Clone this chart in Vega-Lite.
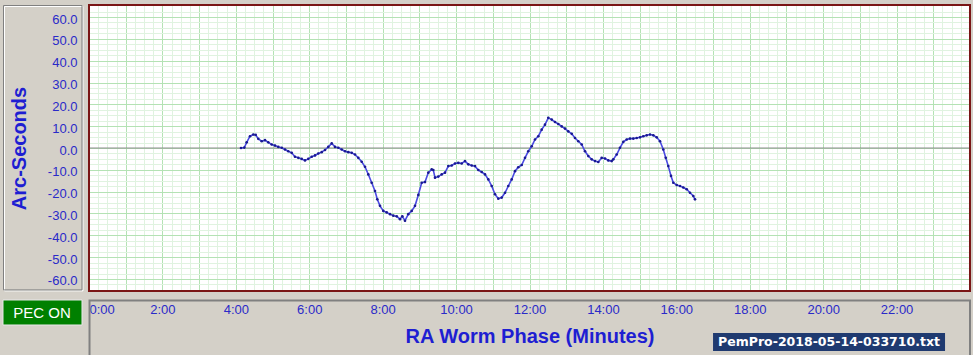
{
"$schema": "https://vega.github.io/schema/vega-lite/v6.json",
"width": 881, "height": 286,
"autosize": {"type": "none"},
"padding": {"left": 89, "top": 5, "right": 3, "bottom": 64},
"background": "#d4d0c8",
"view": {"fill": "#ffffff", "stroke": null},
"config": {"font": "Liberation Sans"},
"datasets": {
"worm": [
{"m":4.141,"a":0.0},{"m":4.231,"a":0.2},{"m":4.296,"a":2.6},{"m":4.386,"a":5.4},{"m":4.476,"a":6.2},{"m":4.541,"a":6.0},{"m":4.612,"a":4.2},{"m":4.705,"a":3.1},{"m":4.795,"a":3.6},{"m":4.884,"a":2.6},{"m":4.977,"a":1.6},{"m":5.067,"a":1.1},{"m":5.157,"a":0.5},{"m":5.250,"a":0.1},{"m":5.339,"a":-0.7},{"m":5.429,"a":-1.5},{"m":5.522,"a":-2.2},{"m":5.612,"a":-4.0},{"m":5.702,"a":-4.5},{"m":5.794,"a":-5.0},{"m":5.884,"a":-5.7},{"m":5.974,"a":-5.0},{"m":6.067,"a":-4.0},{"m":6.157,"a":-3.4},{"m":6.247,"a":-2.5},{"m":6.339,"a":-1.9},{"m":6.429,"a":-0.9},{"m":6.519,"a":0.5},{"m":6.612,"a":2.1},{"m":6.702,"a":0.5},{"m":6.792,"a":0.1},{"m":6.884,"a":-0.7},{"m":6.974,"a":-1.5},{"m":7.064,"a":-1.9},{"m":7.156,"a":-2.2},{"m":7.246,"a":-3.0},{"m":7.336,"a":-4.5},{"m":7.429,"a":-6.3},{"m":7.519,"a":-8.6},{"m":7.609,"a":-12.1},{"m":7.701,"a":-15.9},{"m":7.791,"a":-19.7},{"m":7.854,"a":-23.5},{"m":7.927,"a":-26.5},{"m":8.017,"a":-28.8},{"m":8.110,"a":-29.5},{"m":8.200,"a":-30.3},{"m":8.290,"a":-31.0},{"m":8.382,"a":-31.3},{"m":8.472,"a":-32.6},{"m":8.535,"a":-31.3},{"m":8.608,"a":-33.3},{"m":8.698,"a":-30.3},{"m":8.791,"a":-28.8},{"m":8.881,"a":-26.5},{"m":8.971,"a":-21.5},{"m":9.063,"a":-15.9},{"m":9.153,"a":-15.6},{"m":9.243,"a":-11.3},{"m":9.336,"a":-9.8},{"m":9.380,"a":-10.1},{"m":9.426,"a":-13.6},{"m":9.516,"a":-13.1},{"m":9.608,"a":-12.1},{"m":9.698,"a":-11.3},{"m":9.788,"a":-8.3},{"m":9.881,"a":-8.0},{"m":9.971,"a":-7.1},{"m":10.061,"a":-6.8},{"m":10.153,"a":-7.1},{"m":10.243,"a":-6.0},{"m":10.333,"a":-7.5},{"m":10.426,"a":-8.0},{"m":10.515,"a":-8.3},{"m":10.605,"a":-10.1},{"m":10.698,"a":-11.0},{"m":10.788,"a":-12.1},{"m":10.878,"a":-14.4},{"m":10.970,"a":-17.4},{"m":11.060,"a":-21.2},{"m":11.150,"a":-23.2},{"m":11.243,"a":-22.7},{"m":11.333,"a":-20.5},{"m":11.423,"a":-17.4},{"m":11.515,"a":-14.4},{"m":11.605,"a":-10.6},{"m":11.695,"a":-8.8},{"m":11.788,"a":-7.8},{"m":11.878,"a":-4.5},{"m":11.967,"a":-1.5},{"m":12.060,"a":0.8},{"m":12.150,"a":3.9},{"m":12.240,"a":5.4},{"m":12.332,"a":8.4},{"m":12.422,"a":10.7},{"m":12.512,"a":13.8},{"m":12.605,"a":13.0},{"m":12.695,"a":11.9},{"m":12.785,"a":11.0},{"m":12.877,"a":9.9},{"m":12.967,"a":8.9},{"m":13.057,"a":7.6},{"m":13.150,"a":6.5},{"m":13.240,"a":4.6},{"m":13.330,"a":3.1},{"m":13.422,"a":1.6},{"m":13.512,"a":-1.5},{"m":13.602,"a":-3.7},{"m":13.695,"a":-5.2},{"m":13.785,"a":-6.0},{"m":13.874,"a":-6.4},{"m":13.967,"a":-4.5},{"m":14.057,"a":-4.8},{"m":14.147,"a":-5.7},{"m":14.239,"a":-6.0},{"m":14.283,"a":-5.2},{"m":14.375,"a":-3.0},{"m":14.465,"a":0.1},{"m":14.555,"a":2.8},{"m":14.648,"a":3.9},{"m":14.738,"a":4.3},{"m":14.828,"a":4.3},{"m":14.920,"a":4.6},{"m":15.010,"a":4.9},{"m":15.100,"a":5.4},{"m":15.193,"a":5.8},{"m":15.283,"a":6.2},{"m":15.373,"a":5.8},{"m":15.465,"a":4.9},{"m":15.555,"a":3.1},{"m":15.645,"a":-0.7},{"m":15.711,"a":-4.5},{"m":15.781,"a":-8.3},{"m":15.855,"a":-12.8},{"m":15.918,"a":-15.9},{"m":16.010,"a":-17.0},{"m":16.100,"a":-17.4},{"m":16.190,"a":-18.1},{"m":16.282,"a":-18.9},{"m":16.372,"a":-20.5},{"m":16.462,"a":-22.0},{"m":16.509,"a":-23.5}
],
"pec": [{"label": "PEC ON"}],
"file": [{"label": "PemPro-2018-05-14-033710.txt"}]
},
"resolve": {"axis": {"x": "independent", "y": "independent"}},
"layer": [
{
"data": {"name": "worm"},
"mark": {"type": "point", "opacity": 0},
"encoding": {
"x": {"field": "m", "type": "quantitative", "scale": {"domain": [0, 24], "nice": false, "zero": false},
"axis": {"orient": "top", "grid": true, "gridColor": "#e0f3e0", "gridWidth": 1, "labels": false, "ticks": false, "domain": false, "title": null,
"values": [0.25,0.5,0.75,1.25,1.5,1.75,2.25,2.5,2.75,3.25,3.5,3.75,4.25,4.5,4.75,5.25,5.5,5.75,6.25,6.5,6.75,7.25,7.5,7.75,8.25,8.5,8.75,9.25,9.5,9.75,10.25,10.5,10.75,11.25,11.5,11.75,12.25,12.5,12.75,13.25,13.5,13.75,14.25,14.5,14.75,15.25,15.5,15.75,16.25,16.5,16.75,17.25,17.5,17.75,18.25,18.5,18.75,19.25,19.5,19.75,20.25,20.5,20.75,21.25,21.5,21.75,22.25,22.5,22.75,23.25,23.5,23.75]}},
"y": {"field": "a", "type": "quantitative", "scale": {"domain": [-65.5, 65.5], "nice": false, "zero": false},
"axis": {"orient": "right", "grid": true, "gridColor": "#e0f3e0", "gridWidth": 1, "labels": false, "ticks": false, "domain": false, "title": null,
"values": [-62.5,-57.5,-55,-52.5,-47.5,-45,-42.5,-37.5,-35,-32.5,-27.5,-25,-22.5,-17.5,-15,-12.5,-7.5,-5,-2.5,2.5,5,7.5,12.5,15,17.5,22.5,25,27.5,32.5,35,37.5,42.5,45,47.5,52.5,55,57.5,62.5]}}
}
},
{
"data": {"name": "worm"},
"mark": {"type": "point", "opacity": 0},
"encoding": {
"x": {"field": "m", "type": "quantitative", "scale": {"domain": [0, 24], "nice": false, "zero": false},
"axis": {"orient": "top", "grid": true, "gridColor": "#b4e2b4", "gridWidth": 1, "labels": false, "ticks": false, "domain": false, "title": null,
"values": [1,2,3,4,5,6,7,8,9,10,11,12,13,14,15,16,17,18,19,20,21,22,23]}},
"y": {"field": "a", "type": "quantitative", "scale": {"domain": [-65.5, 65.5], "nice": false, "zero": false},
"axis": {"orient": "right", "grid": true, "gridColor": "#b4e2b4", "gridWidth": 1, "labels": false, "ticks": false, "domain": false, "title": null,
"values": [-60,-50,-40,-30,-20,-10,0,10,20,30,40,50,60]}}
}
},
{
"data": {"name": "pec"},
"mark": {"type": "rect", "fill": null, "stroke": "#ffffff", "strokeWidth": 1},
"encoding": {
"x": {"datum": -2.302, "type": "quantitative", "scale": {"domain": [0, 24], "nice": false, "zero": false}, "axis": null},
"x2": {"datum": -0.164},
"y": {"datum": 64.81, "type": "quantitative", "scale": {"domain": [-65.5, 65.5], "nice": false, "zero": false}, "axis": null},
"y2": {"datum": -65.46}
}
},
{
"data": {"name": "pec"},
"mark": {"type": "rect", "fill": null, "stroke": "#808080", "strokeWidth": 1},
"encoding": {
"x": {"datum": -2.329, "type": "quantitative", "scale": {"domain": [0, 24], "nice": false, "zero": false}, "axis": null},
"x2": {"datum": -0.191},
"y": {"datum": 65.27, "type": "quantitative", "scale": {"domain": [-65.5, 65.5], "nice": false, "zero": false}, "axis": null},
"y2": {"datum": -65.0}
}
},
{
"data": {"name": "pec"},
"mark": {"type": "rect", "fill": "#008000", "stroke": "#e8e8e8", "strokeWidth": 1},
"encoding": {
"x": {"datum": -2.343, "type": "quantitative", "scale": {"domain": [0, 24], "nice": false, "zero": false}, "axis": null},
"x2": {"datum": -0.191},
"y": {"datum": -69.62, "type": "quantitative", "scale": {"domain": [-65.5, 65.5], "nice": false, "zero": false}, "axis": null},
"y2": {"datum": -81.07}
}
},
{
"data": {"name": "pec"},
"mark": {"type": "text", "color": "#ffffff", "fontSize": 15, "font": "Liberation Sans", "align": "center", "baseline": "middle"},
"encoding": {
"x": {"datum": -1.28, "type": "quantitative", "scale": {"domain": [0, 24], "nice": false, "zero": false}, "axis": null},
"y": {"datum": -75.58, "type": "quantitative", "scale": {"domain": [-65.5, 65.5], "nice": false, "zero": false}, "axis": null},
"text": {"field": "label"}
}
},
{
"data": {"name": "pec"},
"mark": {"type": "rect", "fill": null, "stroke": "#808080", "strokeWidth": 2},
"encoding": {
"x": {"datum": 0.014, "type": "quantitative", "scale": {"domain": [0, 24], "nice": false, "zero": false}, "axis": null},
"x2": {"datum": 24.0},
"y": {"datum": -69.85, "type": "quantitative", "scale": {"domain": [-65.5, 65.5], "nice": false, "zero": false}, "axis": null},
"y2": {"datum": -97.0}
}
},
{
"data": {"name": "file"},
"mark": {"type": "rect", "fill": "#1f3a70"},
"encoding": {
"x": {"datum": 17.0, "type": "quantitative", "scale": {"domain": [0, 24], "nice": false, "zero": false}, "axis": null},
"x2": {"datum": 23.32},
"y": {"datum": -84.74, "type": "quantitative", "scale": {"domain": [-65.5, 65.5], "nice": false, "zero": false}, "axis": null},
"y2": {"datum": -92.98}
}
},
{
"data": {"name": "file"},
"mark": {"type": "text", "color": "#ffffff", "fontSize": 12.5, "font": "DejaVu Sans", "fontWeight": "bold", "align": "center", "baseline": "middle"},
"encoding": {
"x": {"datum": 20.16, "type": "quantitative", "scale": {"domain": [0, 24], "nice": false, "zero": false}, "axis": null},
"y": {"datum": -88.86, "type": "quantitative", "scale": {"domain": [-65.5, 65.5], "nice": false, "zero": false}, "axis": null},
"text": {"field": "label"}
}
},
{
"data": {"name": "pec"},
"mark": {"type": "rule", "color": "#8c8c8c", "strokeWidth": 1},
"encoding": {
"y": {"datum": 0, "type": "quantitative", "scale": {"domain": [-65.5, 65.5], "nice": false, "zero": false}, "axis": null}
}
},
{
"data": {"name": "pec"},
"mark": {"type": "rect", "fill": null, "stroke": "#7a1515", "strokeWidth": 2},
"encoding": {
"x": {"datum": 0, "type": "quantitative", "scale": {"domain": [0, 24], "nice": false, "zero": false}, "axis": null},
"x2": {"datum": 24},
"y": {"datum": 65.5, "type": "quantitative", "scale": {"domain": [-65.5, 65.5], "nice": false, "zero": false}, "axis": null},
"y2": {"datum": -65.5}
}
},
{
"data": {"name": "worm"},
"mark": {"type": "line", "color": "#4a4ae2", "strokeWidth": 1.6},
"encoding": {
"x": {"field": "m", "type": "quantitative", "scale": {"domain": [0, 24], "nice": false, "zero": false},
"axis": {"orient": "bottom", "grid": false, "ticks": false, "domain": false, "values": [0,2,4,6,8,10,12,14,16,18,20,22],
"labelExpr": "datum.value + ':00'", "labelFlush": true, "labelFlushOffset": 0, "labelFontSize": 13, "labelColor": "#2a2ac8", "labelPadding": 12, "labelOverlap": false,
"title": "RA Worm Phase (Minutes)", "titleFontSize": 20, "titleFontWeight": "bold", "titleColor": "#1e1ed2", "titlePadding": 10}},
"y": {"field": "a", "type": "quantitative", "scale": {"domain": [-65.5, 65.5], "nice": false, "zero": false},
"axis": {"orient": "left", "grid": false, "ticks": false, "domain": false, "values": [-60,-50,-40,-30,-20,-10,0,10,20,30,40,50,60],
"labelExpr": "(datum.value < 0 ? '-' : '') + format(abs(datum.value), '.1f')", "labelFontSize": 13, "labelColor": "#2a2ac8", "labelPadding": 12, "labelOffset": 2, "labelOverlap": false,
"title": "Arc-Seconds", "titleFontSize": 20, "titleFontWeight": "bold", "titleColor": "#1e1ed2", "titlePadding": 18}}
}
},
{
"data": {"name": "worm"},
"mark": {"type": "point", "filled": true, "size": 7, "color": "#1a1a90", "opacity": 1},
"encoding": {
"x": {"field": "m", "type": "quantitative", "scale": {"domain": [0, 24], "nice": false, "zero": false}, "axis": null},
"y": {"field": "a", "type": "quantitative", "scale": {"domain": [-65.5, 65.5], "nice": false, "zero": false}, "axis": null}
}
}
]
}
